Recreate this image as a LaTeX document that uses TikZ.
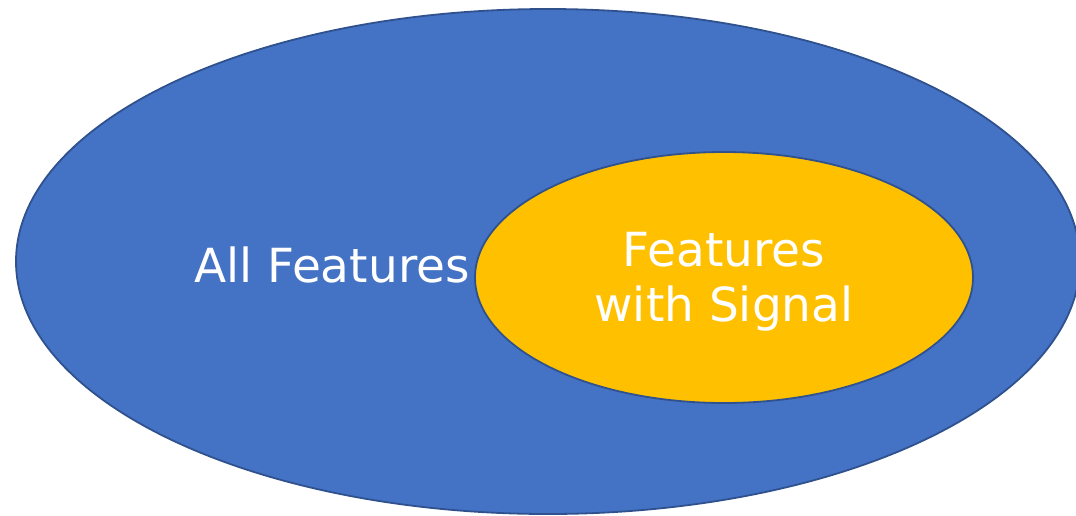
\documentclass[tikz,border=0pt]{standalone}
\usepackage{fontspec}
\setmainfont{DejaVu Sans}
\definecolor{setblue}{HTML}{4472C4}
\definecolor{setyellow}{HTML}{FFC000}
\definecolor{setedge}{HTML}{2F528F}
\begin{document}
\begin{tikzpicture}[x=1pt,y=-1pt,
  setshape/.style={draw=setedge,line width=1.8pt},
  settext/.style={text=white,font=\fontsize{47}{55}\selectfont,align=center}]
\useasboundingbox (0,0) rectangle (1076,515);
\begin{scope}
\clip (0,0) rectangle (1076,515);
\filldraw[setshape,fill=setblue] (548,261.5) ellipse [x radius=532, y radius=252.5];
\end{scope}
\filldraw[setshape,fill=setyellow] (724,277.5) ellipse [x radius=249, y radius=125.5];
\node[settext,anchor=base] (all) at (332,282) {All Features};
\node[settext,anchor=base] (sig) at (724,321.7) {Features\\with Signal};
\end{tikzpicture}
\end{document}
